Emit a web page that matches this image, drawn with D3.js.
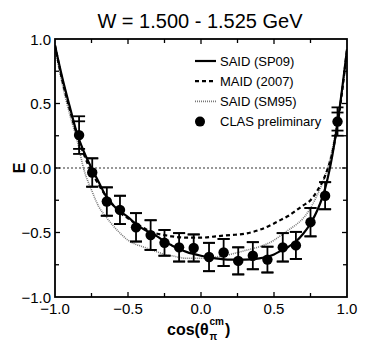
<!DOCTYPE html>
<html>
  <head>
    <meta charset="utf-8">
    <script src="https://d3js.org/d3.v7.min.js"></script>
    <title>E vs cos theta</title>
    <style>
      body { margin: 0; background: #fff; }
      text { font-family: "Liberation Sans", Arial, sans-serif; }
    </style>
  </head>
  <body>
    <svg width="366" height="350"></svg>
    <script>
      // curves: SAID SP09, MAID 2007, SAID SM95
      const curveX = [-1.0, -0.95, -0.9, -0.85, -0.8, -0.75, -0.7, -0.65, -0.6, -0.55, -0.5, -0.45, -0.4, -0.35, -0.3, -0.25, -0.2, -0.1, 0.0, 0.1, 0.2, 0.3, 0.4, 0.5, 0.55, 0.6, 0.65, 0.7, 0.75, 0.8, 0.85, 0.9, 0.95, 1.0];
      const sp09 = [0.95, 0.70, 0.48, 0.27, 0.12, 0.00, -0.11, -0.22, -0.29, -0.34, -0.38, -0.43, -0.47, -0.50, -0.53, -0.57, -0.60, -0.65, -0.68, -0.70, -0.71, -0.71, -0.70, -0.67, -0.64, -0.61, -0.57, -0.51, -0.43, -0.32, -0.16, 0.10, 0.47, 0.92];
      const maid = [0.95, 0.68, 0.46, 0.26, 0.10, -0.03, -0.13, -0.22, -0.29, -0.35, -0.39, -0.43, -0.46, -0.49, -0.51, -0.52, -0.53, -0.54, -0.54, -0.53, -0.52, -0.51, -0.48, -0.43, -0.40, -0.37, -0.33, -0.29, -0.25, -0.17, -0.06, 0.12, 0.45, 0.92];
      const sm95 = [0.93, 0.65, 0.42, 0.22, -0.02, -0.17, -0.30, -0.38, -0.45, -0.51, -0.56, -0.59, -0.61, -0.63, -0.65, -0.67, -0.68, -0.70, -0.70, -0.69, -0.67, -0.64, -0.61, -0.56, -0.52, -0.48, -0.44, -0.39, -0.31, -0.20, -0.06, 0.15, 0.47, 0.90];

      // CLAS preliminary points
      const clasX = [-0.835, -0.745, -0.645, -0.555, -0.445, -0.345, -0.25, -0.15, -0.05, 0.055, 0.155, 0.255, 0.355, 0.455, 0.56, 0.65, 0.75, 0.85, 0.935];
      const clasE = [0.255, -0.035, -0.26, -0.325, -0.46, -0.52, -0.58, -0.615, -0.62, -0.69, -0.655, -0.72, -0.68, -0.71, -0.615, -0.60, -0.42, -0.215, 0.36];
      const clasErr = [0.107, 0.11, 0.11, 0.11, 0.11, 0.115, 0.10, 0.11, 0.105, 0.11, 0.105, 0.105, 0.105, 0.10, 0.11, 0.105, 0.11, 0.105, 0.07];
      const clasErrTot = [0.146, 0.11, 0.11, 0.11, 0.11, 0.115, 0.10, 0.11, 0.105, 0.11, 0.105, 0.105, 0.105, 0.10, 0.11, 0.105, 0.11, 0.105, 0.11];

      const majorTicks = [-1.0, -0.5, 0.0, 0.5, 1.0];
      const minorTicks = [-0.75, -0.25, 0.25, 0.75];
      const legendNames = ['SAID (SP09)', 'MAID (2007)', 'SAID (SM95)', 'CLAS preliminary'];

      const svg = d3.select('svg');
      const x = d3.scaleLinear().domain([-1, 1]).range([55, 347]);
      const y = d3.scaleLinear().domain([-1, 1]).range([297, 39]);

      const fmt = d3.format('.1f');

      // zero line
      svg.append('line')
          .attr('x1', x(-1)).attr('x2', x(1))
          .attr('y1', y(0)).attr('y2', y(0))
          .attr('stroke', '#333').attr('stroke-width', 1.2)
          .attr('stroke-dasharray', '2,2');

      const line = d3.line()
        .x(d => x(d[0]))
        .y(d => y(d[1]))
        .curve(d3.curveMonotoneX);

      const styles = [
        { data: sp09, stroke: '#000', width: 2.2, dash: null },
        { data: maid, stroke: '#000', width: 2.2, dash: '4,3' },
        { data: sm95, stroke: '#777', width: 1.6, dash: '1,1' }
      ];

      const clip = svg.append('clipPath').attr('id', 'plotclip')
        .append('rect')
          .attr('x', x(-1)).attr('y', y(1))
          .attr('width', x(1) - x(-1)).attr('height', y(-1) - y(1));

      const curveG = svg.append('g').attr('clip-path', 'url(#plotclip)');
      styles.slice().reverse().forEach(s => {
        curveG.append('path')
            .datum(curveX.map((v, i) => [v, s.data[i]]))
            .attr('d', line)
            .attr('fill', 'none')
            .attr('stroke', s.stroke)
            .attr('stroke-width', s.width)
            .attr('stroke-dasharray', s.dash);
      });

      // data points with error bars
      const pts = clasX.map((v, i) => ({ x: v, e: clasE[i], err: clasErr[i], tot: clasErrTot[i] }));
      const capW = 6;
      const ptG = svg.append('g').selectAll('g').data(pts).enter().append('g');
      ptG.append('line')
          .attr('x1', d => x(d.x)).attr('x2', d => x(d.x))
          .attr('y1', d => y(d.e + d.tot)).attr('y2', d => y(d.e - d.tot))
          .attr('stroke', '#000').attr('stroke-width', 1.8);
      [d => d.e + d.err, d => d.e - d.err, d => d.e + d.tot, d => d.e - d.tot].forEach(f => {
        ptG.append('line')
            .attr('x1', d => x(d.x) - capW).attr('x2', d => x(d.x) + capW)
            .attr('y1', d => y(f(d))).attr('y2', d => y(f(d)))
            .attr('stroke', '#000').attr('stroke-width', 1.8);
      });
      ptG.append('circle')
          .attr('cx', d => x(d.x)).attr('cy', d => y(d.e))
          .attr('r', 5.2).attr('fill', '#000');

      // frame
      svg.append('rect')
          .attr('x', x(-1)).attr('y', y(1))
          .attr('width', x(1) - x(-1)).attr('height', y(-1) - y(1))
          .attr('fill', 'none').attr('stroke', '#000').attr('stroke-width', 1.8);

      // ticks on all four sides, pointing in
      const tickG = svg.append('g').attr('stroke', '#000').attr('stroke-width', 1.3);
      const addTicks = (vals, len) => {
        vals.forEach(v => {
          tickG.append('line').attr('x1', x(v)).attr('x2', x(v)).attr('y1', y(-1)).attr('y2', y(-1) - len);
          tickG.append('line').attr('x1', x(v)).attr('x2', x(v)).attr('y1', y(1)).attr('y2', y(1) + len);
          tickG.append('line').attr('x1', x(-1)).attr('x2', x(-1) + len).attr('y1', y(v)).attr('y2', y(v));
          tickG.append('line').attr('x1', x(1)).attr('x2', x(1) - len).attr('y1', y(v)).attr('y2', y(v));
        });
      };
      addTicks(majorTicks.slice(1, -1), 5);
      addTicks(minorTicks, 4);

      // tick labels
      svg.append('g').selectAll('text').data(majorTicks).enter().append('text')
          .attr('x', d => x(d)).attr('y', 314)
          .attr('text-anchor', 'middle')
          .attr('font-size', 15)
          .text(fmt);
      svg.append('g').selectAll('text').data(majorTicks).enter().append('text')
          .attr('x', 51).attr('y', d => y(d) + 5.5)
          .attr('text-anchor', 'end')
          .attr('font-size', 15)
          .text(fmt);

      // title
      svg.append('text')
          .attr('x', 200).attr('y', 28)
          .attr('text-anchor', 'middle')
          .attr('font-size', 20)
          .text('W = 1.500 - 1.525 GeV');

      // y axis title
      svg.append('text')
          .attr('transform', `translate(25,${y(0)}) rotate(-90)`)
          .attr('text-anchor', 'middle')
          .attr('font-size', 16).attr('font-weight', 'bold')
          .text('E');

      // x axis title: cos(θ with π below and cm above, then )
      const xt = svg.append('g').attr('font-weight', 'bold');
      const base = xt.append('text')
          .attr('x', 167).attr('y', 335)
          .attr('font-size', 16)
          .text('cos(θ');
      const bw = base.node().getComputedTextLength();
      xt.append('text')
          .attr('x', 167 + bw + 1).attr('y', 340)
          .attr('font-size', 10)
          .text('π');
      const cm = xt.append('text')
          .attr('x', 167 + bw + 1).attr('y', 325)
          .attr('font-size', 10)
          .text('cm');
      const cw = cm.node().getComputedTextLength();
      xt.append('text')
          .attr('x', 167 + bw + cw + 2).attr('y', 335)
          .attr('font-size', 16)
          .text(')');

      // legend
      const legG = svg.append('g').attr('transform', 'translate(195,61)');
      legendNames.forEach((name, i) => {
        const row = legG.append('g').attr('transform', `translate(0,${i * 20.2})`);
        if (i < 3) {
          const s = styles[i];
          row.append('line')
              .attr('x1', 0).attr('x2', 21).attr('y1', 0).attr('y2', 0)
              .attr('stroke', s.stroke).attr('stroke-width', s.width)
              .attr('stroke-dasharray', s.dash);
        } else {
          row.append('circle').attr('cx', 5).attr('cy', 0).attr('r', 5).attr('fill', '#000');
        }
        row.append('text')
            .attr('x', 25).attr('y', 4.5)
            .attr('font-size', 13)
            .text(name);
      });
    </script>
  </body>
</html>
